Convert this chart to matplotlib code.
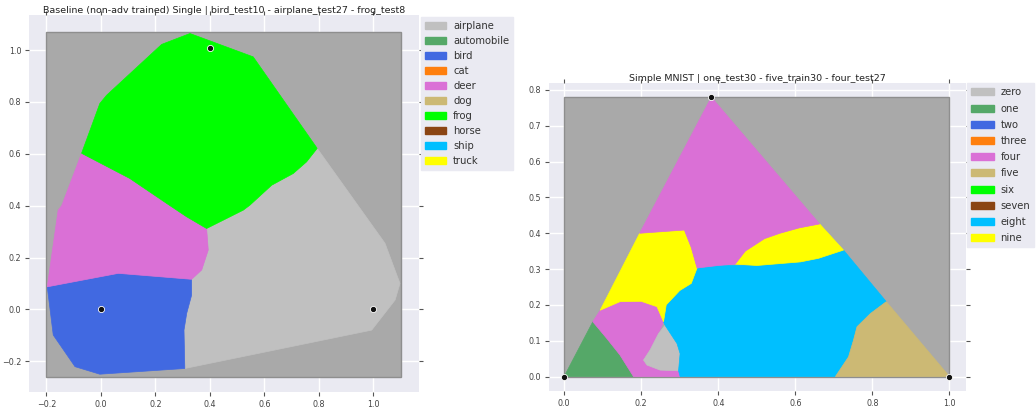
import matplotlib.pyplot as plt
from matplotlib.patches import Polygon, Rectangle, Patch

plt.rcParams['font.family'] = ['DejaVu Sans']

class_colors = ['#c0c0c0', '#55a868', '#4169e1', '#ff7f0e', '#da70d6',
                '#ccb974', '#00ff00', '#8b4513', '#00bfff', '#ffff00']
cifar_names = ['airplane', 'automobile', 'bird', 'cat', 'deer',
               'dog', 'frog', 'horse', 'ship', 'truck']
mnist_names = ['zero', 'one', 'two', 'three', 'four',
               'five', 'six', 'seven', 'eight', 'nine']

# CIFAR plane: sampled area and decision regions (x, y)
cifar_extent = [-0.2, 1.1, -0.26, 1.07]
cifar_pts_x = [0.0, 1.0, 0.4]
cifar_pts_y = [0.0, 0.0, 1.01]
cifar_frog = [(-0.071, 0.602), (-0.004, 0.794), (0.021, 0.826), (0.223, 1.022),
              (0.327, 1.064), (0.559, 0.974), (0.794, 0.621), (0.755, 0.569),
              (0.706, 0.524), (0.627, 0.479), (0.547, 0.402), (0.523, 0.383),
              (0.449, 0.344), (0.388, 0.312), (0.315, 0.357), (0.241, 0.409),
              (0.106, 0.505)]
cifar_deer = [(-0.071, 0.602), (0.106, 0.505), (0.241, 0.409), (0.315, 0.357),
              (0.388, 0.312), (0.394, 0.229), (0.370, 0.152), (0.333, 0.116),
              (0.064, 0.139), (-0.197, 0.087), (-0.157, 0.383), (-0.144, 0.40)]
cifar_bird = [(-0.197, 0.087), (-0.175, -0.099), (-0.095, -0.221), (-0.004, -0.250),
              (0.308, -0.228), (0.305, -0.080), (0.315, -0.015), (0.333, 0.055),
              (0.333, 0.116), (0.064, 0.139)]
cifar_airplane = [(0.308, -0.228), (0.305, -0.080), (0.315, -0.015), (0.333, 0.055),
                  (0.333, 0.116), (0.370, 0.152), (0.394, 0.229), (0.388, 0.312),
                  (0.449, 0.344), (0.523, 0.383), (0.547, 0.402), (0.627, 0.479),
                  (0.706, 0.524), (0.755, 0.569), (0.794, 0.621), (1.043, 0.255),
                  (1.098, 0.100), (1.080, 0.036), (0.994, -0.080)]

# MNIST plane
mnist_extent = [0.0, 1.0, 0.0, 0.78]
mnist_pts_x = [0.0, 1.0, 0.382]
mnist_pts_y = [0.0, 0.0, 0.78]
mnist_one = [(0.0, 0.0), (0.0745, 0.153), (0.111, 0.106), (0.145, 0.060), (0.180, 0.0)]
mnist_four_low = [(0.0745, 0.153), (0.0935, 0.185), (0.145, 0.209), (0.20, 0.21),
                  (0.241, 0.195), (0.258, 0.153), (0.245, 0.120), (0.223, 0.074),
                  (0.206, 0.046), (0.215, 0.032), (0.249, 0.018), (0.297, 0.016),
                  (0.301, 0.0), (0.180, 0.0), (0.145, 0.060), (0.111, 0.106)]
mnist_zero = [(0.245, 0.120), (0.262, 0.143), (0.293, 0.092), (0.301, 0.064),
              (0.297, 0.016), (0.249, 0.018), (0.215, 0.032), (0.206, 0.046),
              (0.223, 0.074)]
mnist_eight = [(0.301, 0.0), (0.704, 0.0), (0.738, 0.055), (0.751, 0.102),
               (0.760, 0.139), (0.795, 0.176), (0.836, 0.209), (0.725, 0.353),
               (0.66, 0.33), (0.613, 0.32), (0.50, 0.31), (0.40, 0.31),
               (0.345, 0.303), (0.33, 0.26), (0.30, 0.24), (0.265, 0.20),
               (0.258, 0.153), (0.262, 0.143), (0.293, 0.092), (0.301, 0.064),
               (0.297, 0.016)]
mnist_five = [(0.704, 0.0), (1.0, 0.0), (0.836, 0.209), (0.795, 0.176),
              (0.760, 0.139), (0.751, 0.102), (0.738, 0.055)]
mnist_nine_left = [(0.0935, 0.185), (0.196, 0.40), (0.312, 0.409), (0.33, 0.36),
                   (0.345, 0.303), (0.33, 0.26), (0.30, 0.24), (0.265, 0.20),
                   (0.258, 0.153), (0.241, 0.195), (0.20, 0.21), (0.145, 0.209)]
mnist_nine_right = [(0.663, 0.426), (0.725, 0.353), (0.66, 0.33), (0.613, 0.32),
                    (0.50, 0.31), (0.444, 0.314), (0.47, 0.35), (0.52, 0.385),
                    (0.56, 0.40), (0.61, 0.415)]
mnist_four_top = [(0.382, 0.78), (0.663, 0.426), (0.61, 0.415), (0.56, 0.40),
                  (0.52, 0.385), (0.47, 0.35), (0.444, 0.314), (0.40, 0.31),
                  (0.345, 0.303), (0.33, 0.36), (0.312, 0.409), (0.196, 0.40)]

cifar_regions = [(cifar_airplane, 0), (cifar_bird, 2), (cifar_deer, 4), (cifar_frog, 6)]
mnist_regions = [(mnist_one, 1), (mnist_four_low, 4), (mnist_zero, 0), (mnist_eight, 8),
                 (mnist_five, 5), (mnist_nine_left, 9), (mnist_nine_right, 9),
                 (mnist_four_top, 4)]


def style_axes(ax):
    ax.set_facecolor('#eaeaf2')
    ax.set_axisbelow(True)
    ax.grid(True, color='white', linewidth=1)
    for s in ax.spines.values():
        s.set_visible(False)
    ax.tick_params(direction='out', length=3, width=0.8, color='#555555', pad=2.5,
                   labelsize=5.8, labelcolor='#444444', top=True, right=True)


def draw_plane(ax, extent, regions, px, py, names, title, hl, ls, bap):
    style_axes(ax)
    x0, x1, y0, y1 = extent
    ax.add_patch(Rectangle((x0, y0), x1 - x0, y1 - y0, facecolor='#a9a9a9',
                           edgecolor='#8e8e8e', linewidth=1, zorder=1))
    for verts, k in regions:
        ax.add_patch(Polygon(verts, closed=True, facecolor=class_colors[k],
                             edgecolor=class_colors[k], linewidth=0.5, zorder=2))
    ax.scatter(px, py, s=20, color='#111111', edgecolors='white',
               linewidths=0.6, zorder=5)
    ax.set_title(title, fontsize=6.8, color='#222222', pad=1.5)
    handles = [Patch(facecolor=c, edgecolor=c) for c in class_colors]
    leg = ax.legend(handles, names, loc='upper left', bbox_to_anchor=(1.0, 1.0),
                    borderaxespad=bap, frameon=True, fontsize=7.2,
                    facecolor='#eaeaf2', edgecolor='#eaeaf2', framealpha=1,
                    handlelength=hl, handleheight=0.7, handletextpad=0.7,
                    labelspacing=ls, borderpad=0.4, fancybox=False)
    for t in leg.get_texts():
        t.set_color('#333333')


fig = plt.figure(figsize=(10.36, 4.08), dpi=100)

ax1 = fig.add_axes([0.028, 0.039, 0.3765, 0.924])
draw_plane(ax1, cifar_extent, cifar_regions, cifar_pts_x, cifar_pts_y, cifar_names,
           'Baseline (non-adv trained) Single | bird_test10 - airplane_test27 - frog_test8',
           2.1, 0.5, 0.2)
ax1.set_xlim(-0.264, 1.168)
ax1.set_ylim(-0.319, 1.135)
ax1.set_xticks([-0.2, 0.0, 0.2, 0.4, 0.6, 0.8, 1.0])
ax1.set_yticks([-0.2, 0.0, 0.2, 0.4, 0.6, 0.8, 1.0])

ax2 = fig.add_axes([0.530, 0.042, 0.4025, 0.755])
draw_plane(ax2, mnist_extent, mnist_regions, mnist_pts_x, mnist_pts_y, mnist_names,
           'Simple MNIST | one_test30 - five_train30 - four_test27',
           2.3, 0.62, 0.05)
ax2.set_xlim(-0.039, 1.043)
ax2.set_ylim(-0.04, 0.82)
ax2.set_xticks([0.0, 0.2, 0.4, 0.6, 0.8, 1.0])
ax2.set_yticks([0.0, 0.1, 0.2, 0.3, 0.4, 0.5, 0.6, 0.7, 0.8])

fig.savefig('out.png', dpi=100)
